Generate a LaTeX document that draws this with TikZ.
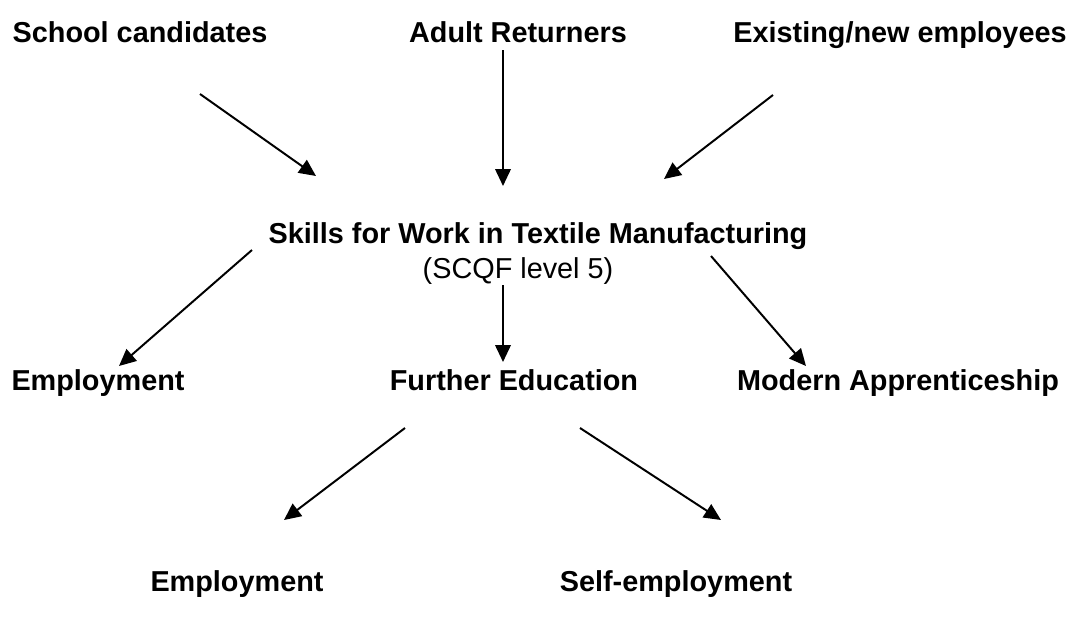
\documentclass[tikz,border=0pt]{standalone}
\usepackage{fontspec}
\setmainfont{Liberation Sans}
\usetikzlibrary{arrows.meta}

\begin{document}
\begin{tikzpicture}[x=0.025cm, y=-0.025cm,
  lbl/.style={font=\fontsize{20.5}{24}\selectfont\bfseries, inner sep=0pt, anchor=base},
  sub/.style={font=\fontsize{20.5}{24}\selectfont, inner sep=0pt, anchor=base},
  flow/.style={line width=1.4pt, -{Triangle[length=12pt, width=11pt]}}]

% Page frame
\useasboundingbox (0,0) rectangle (1074,619);

% Entry routes
\node[lbl] (school) at (140,42) {School candidates};
\node[lbl] (adult) at (518,42) {Adult Returners};
\node[lbl] (staff) at (900,42) {Existing/new employees};

% The award
\node[lbl] (award) at (538,243) {Skills for Work in Textile Manufacturing};
\node[sub] (level) at (518,278) {(SCQF level 5)};

% Progression
\node[lbl] (job) at (98,390) {Employment};
\node[lbl] (fe) at (514,390) {Further Education};
\node[lbl] (ma) at (898,390) {Modern Apprenticeship};

% After further education
\node[lbl] (fejob) at (237,591) {Employment};
\node[lbl] (self) at (676,591) {Self-employment};

% Arrow ends
\coordinate (s1) at (200,94);  \coordinate (e1) at (316,176);
\coordinate (s2) at (503,50);  \coordinate (e2) at (503,186);
\coordinate (s3) at (773,95);  \coordinate (e3) at (664,179);
\coordinate (s4) at (252,250); \coordinate (e4) at (119,366);
\coordinate (s5) at (503,285); \coordinate (e5) at (503,362);
\coordinate (s6) at (711,256); \coordinate (e6) at (806,366);
\coordinate (s7) at (405,428); \coordinate (e7) at (284,520);
\coordinate (s8) at (580,428); \coordinate (e8) at (721,520);

% Arrows
\foreach \i in {1,...,8} {
  \draw[flow] (s\i) -- (e\i);
}

\end{tikzpicture}
\end{document}
